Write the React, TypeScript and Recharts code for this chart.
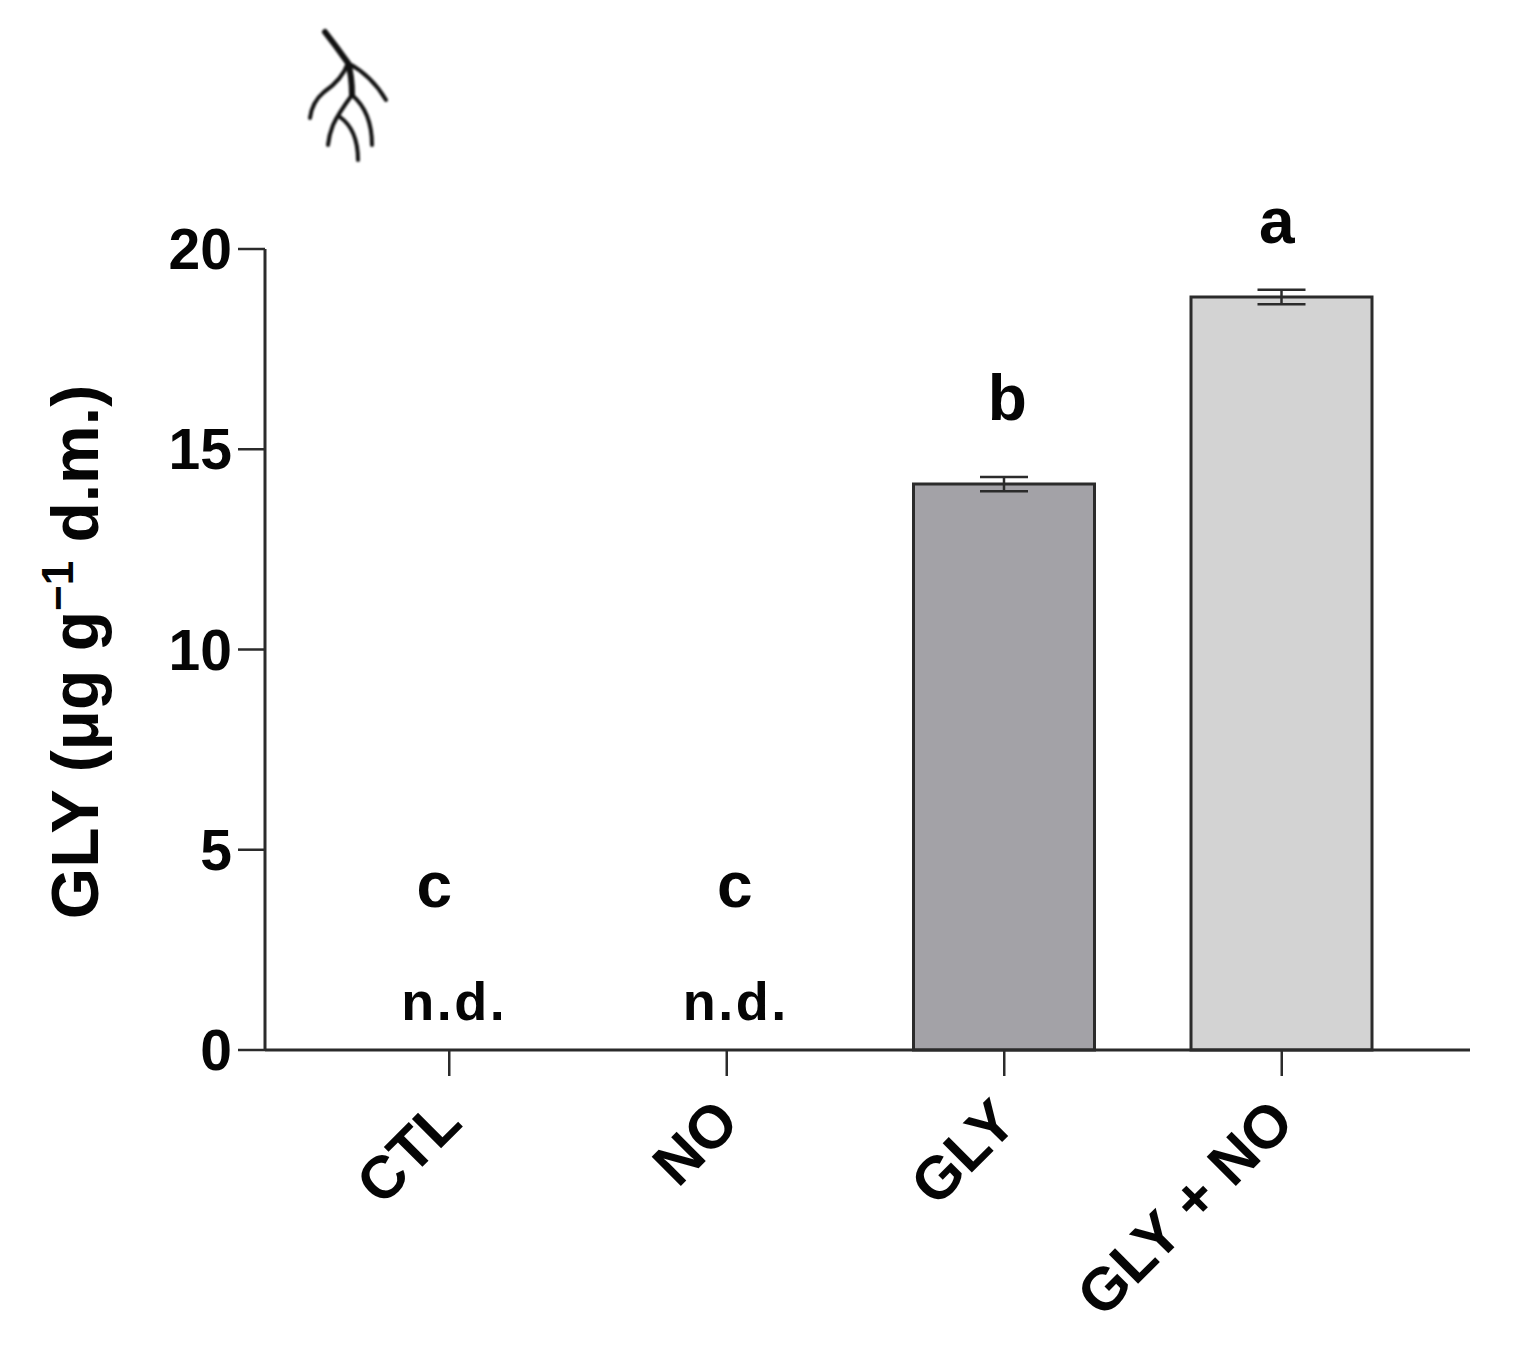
import React from "react";
import { BarChart, Bar, XAxis, YAxis, Cell, ErrorBar, ReferenceDot } from "recharts";

const categories = ["CTL", "NO", "GLY", "GLY + NO"];
const means: (number | null)[] = [null, null, 14.13, 18.8];
const errors: (number | null)[] = [null, null, 0.18, 0.18];
const yTicks = [0, 5, 10, 15, 20];
const letters = ["c", "c", "b", "a"];
const letterLevels = [3.57, 3.57, 15.73, 20.15];
const letterShift = [-15, 8, 3, -5];
const ndCategories = ["CTL", "NO"];
const ndLevel = 0.75;
const ndShift = [5, 9];
const barFills = ["#a3a2a7", "#a3a2a7", "#a3a2a7", "#d3d3d3"];

const rows = categories.map((name, i) => ({ name, mean: means[i], err: errors[i] }));

const FONT = '"Liberation Sans", Arial, sans-serif';
const INK = "#2b2b2b";
const TEXT = "#050505";

const rootPaths = [
  { d: "M325 32 Q336 46 348 63 Q352 76 352 95", w: 6 },
  { d: "M348 63 Q372 76 386 100", w: 4 },
  { d: "M348 63 Q342 80 324 92 Q312 102 310 118", w: 4 },
  { d: "M352 95 Q338 114 333 125 Q329 135 328 145", w: 4 },
  { d: "M352 95 Q372 112 372 145", w: 4 },
  { d: "M340 117 Q358 130 358 160", w: 4 },
];

function XTick(props: any) {
  const { x, y, payload } = props;
  const ax = x + 15;
  const ay = y + 47;
  return (
    <text x={ax} y={ay} textAnchor="end" transform={`rotate(-45 ${ax} ${ay})`}
      fontFamily={FONT} fontWeight="bold" fontSize={60} fill={TEXT}>
      {payload.value}
    </text>
  );
}

function YLabel() {
  return (
    <text x={98} y={652} textAnchor="middle" transform="rotate(-90 98 652)"
      fontFamily={FONT} fontWeight="bold" fontSize={66} fill={TEXT}>
      GLY (μg g<tspan dy={-25} fontSize={44}>−1</tspan><tspan dy={25}> d.m.)</tspan>
    </text>
  );
}

const marker = (label: string, dx: number, size: number, spacing = 0) => (p: any) => (
  <text x={p.cx + dx} y={p.cy} textAnchor="middle" fontFamily={FONT} fontWeight="bold"
    fontSize={size} letterSpacing={spacing} fill={TEXT}>
    {label}
  </text>
);

export default function App() {
  return (
    <div style={{ position: "absolute", left: 0, top: 0, width: 1535, height: 1353, background: "#fff" }}>
      <svg width={1535} height={200} style={{ position: "absolute", left: 0, top: 0, filter: "blur(0.8px)" }}>
        {rootPaths.map((r, i) => (
          <path key={i} d={r.d} fill="none" stroke="#111" strokeWidth={r.w} strokeLinecap="round" />
        ))}
      </svg>
      <BarChart
        width={1535}
        height={1353}
        data={rows}
        margin={{ left: 165, right: 65, top: 249, bottom: 203 }}
        barSize={181}
        style={{ position: "absolute", left: 0, top: 0 }}
      >
        <XAxis
          dataKey="name"
          type="category"
          height={100}
          padding={{ left: 45.5, right: 49.5 }}
          interval={0}
          tickLine={{ stroke: INK, strokeWidth: 2.5 }}
          axisLine={{ stroke: INK, strokeWidth: 3 }}
          tickSize={26}
          tick={<XTick />}
        />
        <YAxis
          type="number"
          width={100}
          domain={[0, 20]}
          ticks={yTicks}
          interval={0}
          tickSize={27}
          tickMargin={6}
          tickLine={{ stroke: INK, strokeWidth: 2.5 }}
          axisLine={{ stroke: INK, strokeWidth: 3 }}
          tick={{ fontFamily: FONT, fontWeight: "bold", fontSize: 57, fill: TEXT }}
          label={{ content: () => <YLabel /> }}
        />
        <Bar dataKey="mean" stroke={INK} strokeWidth={3} isAnimationActive={false}>
          {rows.map((r, i) => (
            <Cell key={r.name} fill={barFills[i]} />
          ))}
          <ErrorBar dataKey="err" width={24} stroke={INK} strokeWidth={2.5} direction="y" isAnimationActive={false} />
        </Bar>
        {categories.map((c, i) => (
          <ReferenceDot key={`l${i}`} x={c} y={letterLevels[i]} r={0} ifOverflow="visible"
            shape={marker(letters[i], letterShift[i], 64)} />
        ))}
        {ndCategories.map((c, i) => (
          <ReferenceDot key={`n${i}`} x={c} y={ndLevel} r={0} ifOverflow="visible"
            shape={marker("n.d.", ndShift[i], 54, 2.5)} />
        ))}
      </BarChart>
    </div>
  );
}
